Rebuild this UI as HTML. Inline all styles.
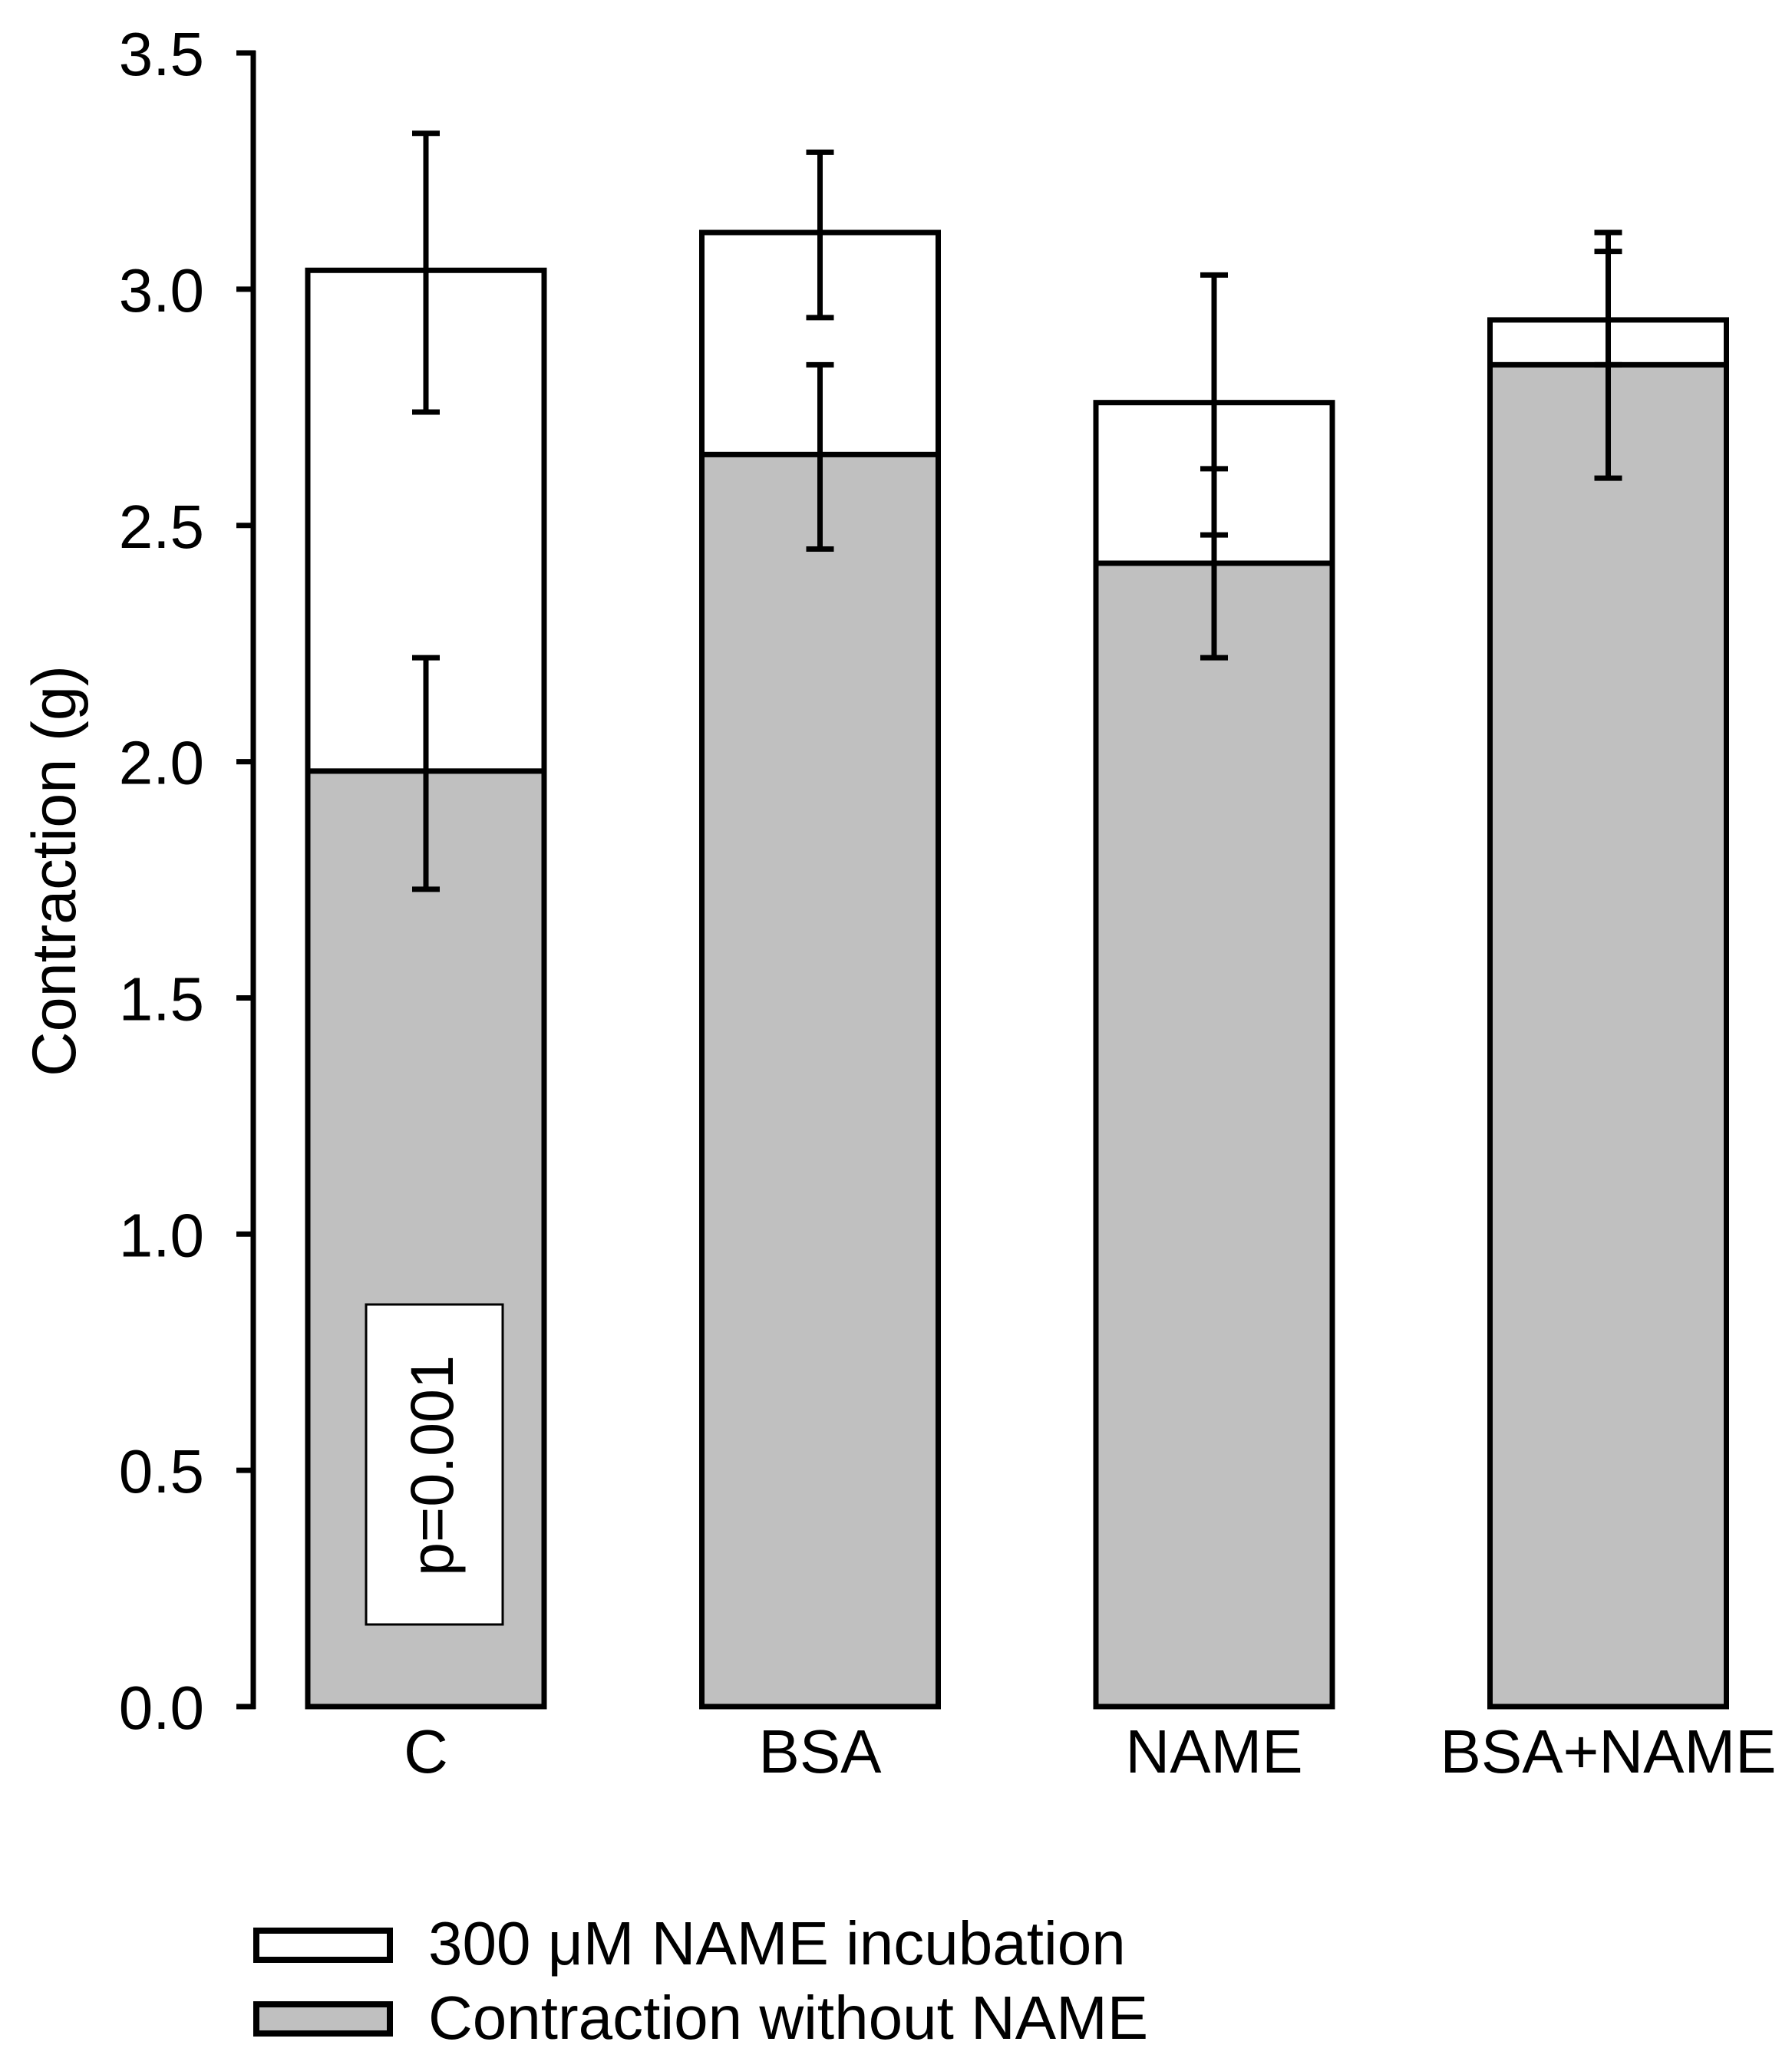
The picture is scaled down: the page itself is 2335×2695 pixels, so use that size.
<!DOCTYPE html>
<html><head><meta charset="utf-8"><style>
html,body{margin:0;padding:0;background:#fff;}
svg{display:block;}
text{font-family:"Liberation Sans",Arial,sans-serif;fill:#000;}
</style></head><body>
<svg id="chart" width="2335" height="2695" viewBox="0 0 2335 2695" xmlns="http://www.w3.org/2000/svg">
<g id="plot"></g>
<g>
<rect x="477" y="1700" width="178" height="417" fill="#fff" stroke="#000" stroke-width="3"/>
<text transform="translate(590,1910) rotate(-90)" text-anchor="middle" font-size="79">p=0.001</text>
</g>
<text transform="translate(98,1135) rotate(-90)" text-anchor="middle" font-size="81">Contraction (g)</text>
<g>
<g>
<rect x="334" y="2516" width="174" height="38" fill="#fff" stroke="#000" stroke-width="8"/>
<text x="558" y="2560" font-size="80">300 μM NAME incubation</text>
</g>
<g>
<rect x="334" y="2612" width="174" height="38" fill="#c0c0c0" stroke="#000" stroke-width="8"/>
<text x="558" y="2657" font-size="80">Contraction without NAME</text>
</g>
</g>
</svg>
<script>
const categories = ["C", "BSA", "NAME", "BSA+NAME"];
const baseValues = [1.98, 2.65, 2.42, 2.84];
const baseErrLow = [1.73, 2.45, 2.22, 2.60];
const baseErrHigh = [2.22, 2.84, 2.62, 3.08];
const totalValues = [3.04, 3.12, 2.76, 2.935];
const totalErrLow = [2.74, 2.94, 2.48, 2.84];
const totalErrHigh = [3.33, 3.29, 3.03, 3.12];
const yTicks = [0, 0.5, 1.0, 1.5, 2.0, 2.5, 3.0, 3.5];
const yTickLabels = ["0.0", "0.5", "1.0", "1.5", "2.0", "2.5", "3.0", "3.5"];

const NS = "http://www.w3.org/2000/svg";
const g = document.getElementById("plot");
const Y0 = 2224, PX_PER_UNIT = 615.7;
function y(v){ return Y0 - v * PX_PER_UNIT; }
const BAR_W = 308, FIRST_X = 401, STEP = 513.5;
function xLeft(i){ return FIRST_X + i * STEP; }
function xCenter(i){ return xLeft(i) + BAR_W / 2; }
function mk(tag, attrs){ const e = document.createElementNS(NS, tag); for (const k in attrs) e.setAttribute(k, attrs[k]); g.appendChild(e); return e; }

categories.forEach((c, i) => {
  const L = xLeft(i);
  let r = mk("rect", {x: L, y: y(totalValues[i]), width: BAR_W, height: y(baseValues[i]) - y(totalValues[i]), fill: "#fff", stroke: "#000", "stroke-width": 7});
  
  
  let b = mk("rect", {x: L, y: y(baseValues[i]), width: BAR_W, height: y(0) - y(baseValues[i]), fill: "#c0c0c0", stroke: "#000", "stroke-width": 7});
  
  
  const cx = xCenter(i);
  [[baseErrLow[i], baseErrHigh[i], 'error-bar-base-'], [totalErrLow[i], totalErrHigh[i], 'error-bar-total-']].forEach(([lo, hi, nm]) => {
    const eg = document.createElementNS(NS, "g");
    
    
    g.appendChild(eg);
    const add = (a) => { const l = document.createElementNS(NS, "line"); for (const k in a) l.setAttribute(k, a[k]); l.setAttribute("stroke", "#000"); l.setAttribute("stroke-width", 7); eg.appendChild(l); };
    add({x1: cx, x2: cx, y1: y(lo), y2: y(hi)});
    add({x1: cx - 18, x2: cx + 18, y1: y(lo), y2: y(lo)});
    add({x1: cx - 18, x2: cx + 18, y1: y(hi), y2: y(hi)});
  });
  let t = mk("text", {x: cx, y: 2310, "text-anchor": "middle", "font-size": 80});
  t.textContent = c;
  
  
});

let ax = mk("line", {x1: 330, x2: 330, y1: y(3.5) - 3, y2: y(0) + 3, stroke: "#000", "stroke-width": 7});


yTicks.forEach((v, i) => {
  let tk = mk("line", {x1: 308, x2: 333, y1: y(v), y2: y(v), stroke: "#000", "stroke-width": 7});
  
  
  let tl = mk("text", {x: 266, y: y(v) + 29, "text-anchor": "end", "font-size": 80});
  tl.textContent = yTickLabels[i];
  
  
});
</script>
</body></html>
